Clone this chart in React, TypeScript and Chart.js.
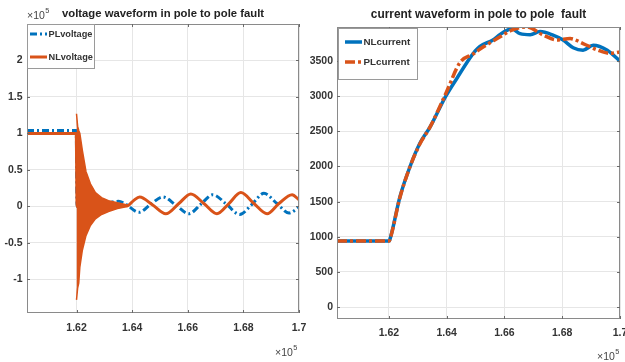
import React, { useEffect, useRef } from "react";
import { Chart, registerables } from "chart.js";

Chart.register(...registerables);

const BLUE = "#0072BD";
const ORANGE = "#D95319";
const FONT = '"Liberation Sans", Arial, Helvetica, sans-serif';
const TEXT = "#333333";

// ---- shared axis ticks (time axis shown in units of 10^5) ----
const timeTicks = [1.62, 1.64, 1.66, 1.68, 1.7];
const voltageTicks = [-1, -0.5, 0, 0.5, 1, 1.5, 2];
const currentTicks = [0, 500, 1000, 1500, 2000, 2500, 3000, 3500];

// ---- left: voltage (units of 10^5) ----
const plVoltageX = [1.6022, 1.6199, 1.6202, 1.6300, 1.6323, 1.6351, 1.6377, 1.6425, 1.6467, 1.6510, 1.6557, 1.6604, 1.6647, 1.6690, 1.6737, 1.6787, 1.6831, 1.6874, 1.6921, 1.6964, 1.7000];
const plVoltageY = [1.04, 1.04, 0.0, 0.04, 0.06, 0.07, 0.03, -0.08, 0.03, 0.13, 0.02, -0.10, 0.03, 0.16, 0.04, -0.11, 0.03, 0.18, 0.04, -0.09, -0.01];

const nlVoltageX = [1.6022, 1.6199, 1.6202, 1.6340, 1.6383, 1.6405, 1.6427, 1.6474, 1.6521, 1.6568, 1.6611, 1.6658, 1.6705, 1.6748, 1.6791, 1.6838, 1.6885, 1.6928, 1.6975, 1.7000];
const nlVoltageY = [1.00, 1.00, 0.0, 0.02, 0.01, 0.08, 0.13, 0.02, -0.10, 0.04, 0.17, 0.04, -0.10, 0.04, 0.19, 0.04, -0.10, 0.04, 0.16, 0.09];

// high-frequency ringing of NLvoltage right after the fault (envelope)
const ringX = [1.6200, 1.6204, 1.6208, 1.6212, 1.6221, 1.6234, 1.6250, 1.6268, 1.6290, 1.6315, 1.6347, 1.6383];
const ringUpper = [1.27, 1.10, 1.04, 1.00, 0.77, 0.48, 0.31, 0.19, 0.12, 0.08, 0.05, 0.02];
const ringLower = [-1.28, -1.12, -1.05, -0.83, -0.60, -0.40, -0.26, -0.17, -0.11, -0.07, -0.03, 0.00];

// ---- right: current ----
const nlCurrentX = [1.6020, 1.6200, 1.6203, 1.6238, 1.6273, 1.6307, 1.6342, 1.6394, 1.6436, 1.6470, 1.6498, 1.6515, 1.6560, 1.6585, 1.6610, 1.6625, 1.6654, 1.6689, 1.6723, 1.6768, 1.6803, 1.6838, 1.6872, 1.6907, 1.6956, 1.7000];
const nlCurrentY = [940, 940, 960, 1570, 2000, 2330, 2560, 2980, 3260, 3480, 3640, 3710, 3800, 3880, 3940, 3960, 3890, 3875, 3920, 3870, 3800, 3690, 3655, 3725, 3655, 3500];

const plCurrentX = [1.6020, 1.6200, 1.6203, 1.6238, 1.6273, 1.6307, 1.6342, 1.6398, 1.6446, 1.6491, 1.6526, 1.6585, 1.6619, 1.6678, 1.6734, 1.6782, 1.6827, 1.6872, 1.6921, 1.6966, 1.7000];
const plCurrentY = [940, 940, 960, 1560, 2000, 2320, 2560, 3050, 3480, 3600, 3700, 3845, 3930, 3985, 3870, 3800, 3820, 3750, 3660, 3610, 3630];

const pts = (xs: number[], ys: number[]) => xs.map((x, i) => ({ x, y: ys[i] }));

type LegendCfg = {
  box: [number, number, number, number];
  rows: number[];
  lineX: [number, number];
  textX: number;
  fontSize: number;
  items: { index: number; label: string }[];
};
type ExpCfg = { x: number; y: number; size: number };

function makeDecor(legend: LegendCfg, exps: ExpCfg[]) {
  return {
    id: "decor",
    afterDatasetsDraw(chart: any) {
      const { ctx, chartArea: a } = chart;
      const xs = chart.scales.x;
      const ys = chart.scales.y;
      ctx.save();
      // axes box
      ctx.strokeStyle = "#8a8a8a";
      ctx.lineWidth = 1;
      ctx.strokeRect(Math.round(a.left) + 0.5, Math.round(a.top) + 0.5, Math.round(a.right - a.left) - 1, Math.round(a.bottom - a.top) - 1);
      // inward tick marks
      ctx.strokeStyle = "#6a6a6a";
      ctx.beginPath();
      xs.ticks.forEach((t: any) => {
        const p = Math.round(xs.getPixelForValue(t.value)) + 0.5;
        ctx.moveTo(p, a.bottom); ctx.lineTo(p, a.bottom - 3);
        ctx.moveTo(p, a.top); ctx.lineTo(p, a.top + 3);
      });
      ys.ticks.forEach((t: any) => {
        const p = Math.round(ys.getPixelForValue(t.value)) + 0.5;
        ctx.moveTo(a.left, p); ctx.lineTo(a.left + 3, p);
        ctx.moveTo(a.right, p); ctx.lineTo(a.right - 3, p);
      });
      ctx.stroke();
      // legend
      const [bx, by, bw, bh] = legend.box;
      ctx.fillStyle = "#ffffff";
      ctx.fillRect(bx, by, bw, bh);
      ctx.strokeStyle = "#9a9a9a";
      ctx.strokeRect(bx + 0.5, by + 0.5, bw - 1, bh - 1);
      legend.items.forEach((it, i) => {
        const ds = chart.data.datasets[it.index];
        const y = legend.rows[i];
        ctx.save();
        ctx.strokeStyle = ds.borderColor;
        ctx.lineWidth = ds.borderWidth;
        ctx.setLineDash(ds.borderDash || []);
        ctx.beginPath();
        ctx.moveTo(legend.lineX[0], y);
        ctx.lineTo(legend.lineX[1], y);
        ctx.stroke();
        ctx.restore();
        ctx.fillStyle = TEXT;
        ctx.font = `bold ${legend.fontSize}px ${FONT}`;
        ctx.textAlign = "left";
        ctx.textBaseline = "middle";
        ctx.fillText(it.label, legend.textX, y + 0.5);
      });
      ctx.restore();
    },
    afterDraw(chart: any) {
      const { ctx } = chart;
      ctx.save();
      ctx.fillStyle = "#444444";
      ctx.textAlign = "left";
      ctx.textBaseline = "middle";
      exps.forEach((e) => {
        ctx.font = `${e.size}px ${FONT}`;
        ctx.fillText("×10", e.x, e.y);
        const w = ctx.measureText("×10").width;
        ctx.font = `${e.size * 0.7}px ${FONT}`;
        ctx.fillText("5", e.x + w + 0.5, e.y - e.size * 0.45);
      });
      ctx.restore();
    },
  };
}

function axisOpts(min: number, max: number, ticks: number[], horizontal: boolean, size: number, pad: number) {
  return {
    type: "linear" as const,
    min,
    max,
    afterBuildTicks: (s: any) => {
      s.ticks = ticks.map((v) => ({ value: v }));
    },
    afterFit: (s: any) => {
      if (horizontal) {
        s.height = size;
        s.paddingLeft = 0;
        s.paddingRight = 0;
      } else {
        s.width = size;
        s.paddingTop = 0;
        s.paddingBottom = 0;
      }
    },
    grid: { color: "#e6e6e6", lineWidth: 1, drawTicks: false },
    border: { display: false },
    ticks: {
      padding: pad,
      color: TEXT,
      font: { family: FONT, size: 10.5, weight: "bold" as const },
      callback: (v: any) => String(v),
    },
  };
}

function VoltageChart() {
  const ref = useRef<HTMLCanvasElement | null>(null);
  useEffect(() => {
    if (!ref.current) return;
    const chart = new Chart(ref.current, {
      type: "line",
      data: {
        datasets: [
          { label: "ringUpper", data: pts(ringX, ringUpper), borderColor: ORANGE, backgroundColor: ORANGE, borderWidth: 1.5, fill: "+1", pointRadius: 0, order: 1 },
          { label: "ringLower", data: pts(ringX, ringLower), borderColor: ORANGE, borderWidth: 1.5, fill: false, pointRadius: 0, order: 1 },
          { label: "NLvoltage", data: pts(nlVoltageX, nlVoltageY), borderColor: ORANGE, borderWidth: 3, pointRadius: 0, fill: false, cubicInterpolationMode: "monotone", order: 2 },
          { label: "PLvoltage", data: pts(plVoltageX, plVoltageY), borderColor: BLUE, borderWidth: 3, borderDash: [7, 3, 2, 3], pointRadius: 0, fill: false, cubicInterpolationMode: "monotone", order: 3 },
        ],
      },
      options: {
        animation: false,
        responsive: false,
        maintainAspectRatio: false,
        layout: { padding: { left: 0, right: 11, top: 0, bottom: 0 } },
        plugins: {
          legend: { display: false },
          tooltip: { enabled: false },
          title: {
            display: true,
            fullSize: false,
            text: "voltage waveform in pole to pole fault",
            color: "#222222",
            font: { family: FONT, size: 11.3, weight: "bold" },
            padding: { top: 7, bottom: 3.44 },
          },
        },
        scales: {
          x: axisOpts(1.6022, 1.7, timeTicks, true, 49, 9),
          y: axisOpts(-1.46, 2.5, voltageTicks, false, 27, 4.5),
        },
      },
      plugins: [
        makeDecor(
          {
            box: [27, 24, 68, 45],
            rows: [34, 57],
            lineX: [30, 47],
            textX: 48.5,
            fontSize: 9.2,
            items: [
              { index: 3, label: "PLvoltage" },
              { index: 2, label: "NLvoltage" },
            ],
          },
          [
            { x: 27, y: 16, size: 10.5 },
            { x: 275, y: 353, size: 10.5 },
          ]
        ),
      ],
    } as any);
    return () => chart.destroy();
  }, []);
  return <canvas ref={ref} width={310} height={362} style={{ position: "absolute", left: 0, top: 0, width: 310, height: 362 }} />;
}

function CurrentChart() {
  const ref = useRef<HTMLCanvasElement | null>(null);
  useEffect(() => {
    if (!ref.current) return;
    const chart = new Chart(ref.current, {
      type: "line",
      data: {
        datasets: [
          { label: "PLcurrent", data: pts(plCurrentX, plCurrentY), borderColor: ORANGE, borderWidth: 3.5, borderDash: [10, 3, 3, 3], pointRadius: 0, fill: false, cubicInterpolationMode: "monotone", order: 1 },
          { label: "NLcurrent", data: pts(nlCurrentX, nlCurrentY), borderColor: BLUE, borderWidth: 3.5, pointRadius: 0, fill: false, cubicInterpolationMode: "monotone", order: 2 },
        ],
      },
      options: {
        animation: false,
        responsive: false,
        maintainAspectRatio: false,
        layout: { padding: { left: 0, right: 5, top: 0, bottom: 0 } },
        plugins: {
          legend: { display: false },
          tooltip: { enabled: false },
          title: {
            display: true,
            fullSize: false,
            text: "current waveform in pole to pole  fault",
            color: "#222222",
            font: { family: FONT, size: 11.9, weight: "bold" },
            padding: { top: 8, bottom: 4.72 },
          },
        },
        scales: {
          x: axisOpts(1.602, 1.7, timeTicks, true, 43, 8),
          y: axisOpts(-170, 3985, currentTicks, false, 27, 4),
        },
      },
      plugins: [
        makeDecor(
          {
            box: [28, 28, 80, 52],
            rows: [42, 62],
            lineX: [35, 52],
            textX: 53.5,
            fontSize: 9.8,
            items: [
              { index: 1, label: "NLcurrent" },
              { index: 0, label: "PLcurrent" },
            ],
          },
          [{ x: 287, y: 357, size: 10.5 }]
        ),
      ],
    } as any);
    return () => chart.destroy();
  }, []);
  return <canvas ref={ref} width={315} height={362} style={{ position: "absolute", left: 310, top: 0, width: 315, height: 362 }} />;
}

export default function App() {
  return (
    <div style={{ position: "absolute", left: 0, top: 0, width: 625, height: 362, background: "#ffffff", overflow: "hidden" }}>
      <VoltageChart />
      <CurrentChart />
    </div>
  );
}
